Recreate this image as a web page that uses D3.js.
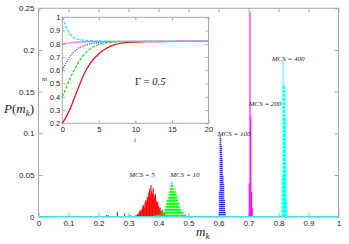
<!DOCTYPE html>
<html>
<head>
<meta charset="utf-8">
<script src="https://cdn.jsdelivr.net/npm/d3@7"></script>
<style>
  body { margin: 0; background: #fff; }
  .tick text { font-family: "Liberation Sans", Arial, sans-serif; fill: #222; }
  .lbl { font-family: "Liberation Serif", "DejaVu Serif", serif; fill: #222; }
</style>
</head>
<body>
<div class="chart"></div>
<script>
// Main histogram ticks
const xTicks = [0, 0.1, 0.2, 0.3, 0.4, 0.5, 0.6, 0.7, 0.8, 0.9, 1];
const yTicks = [0, 0.05, 0.1, 0.15, 0.2, 0.25];

// Histogram bins: bin width and first bin per series, P(m_k) values per bin
const binWidth = 0.0025;
const mcs5Start = 0.32;
const mcs5 = [0.001, 0, 0.002, 0.001, 0.003, 0.002, 0.005, 0.007, 0.006, 0.009, 0.008, 0.012, 0.014, 0.011, 0.017,
  0.020, 0.018, 0.024, 0.022, 0.029, 0.033, 0.027, 0.038, 0.031, 0.028, 0.034, 0.026, 0.023, 0.027, 0.019, 0.016,
  0.018, 0.013, 0.010, 0.011, 0.007, 0.006, 0.008, 0.004, 0.003, 0.005, 0.002, 0.002, 0.001, 0.001];
// isolated early spikes of MCS = 5
const mcs5SpikeM = [0.227, 0.232, 0.263, 0.287, 0.305];
const mcs5SpikeP = [0.002, 0.002, 0.006, 0.004, 0.002];

const mcs10Start = 0.39;
const mcs10 = [0.002, 0.001, 0.003, 0.002, 0.004, 0.003, 0.002, 0.005, 0.003, 0.006, 0.004, 0.008, 0.006, 0.012,
  0.010, 0.016, 0.020, 0.026, 0.022, 0.030, 0.035, 0.040, 0.043, 0.038, 0.033, 0.028, 0.034, 0.030, 0.026, 0.022,
  0.018, 0.016, 0.012, 0.010, 0.008, 0.006, 0.005, 0.004, 0.003, 0.002, 0.002, 0.001, 0.001];

const mcs100Start = 0.6025;
const mcs100 = [0.030, 0.098, 0.095, 0.085, 0.070, 0.050, 0.040, 0.020, 0.006];

const mcs200Start = 0.7025;
const mcs200 = [0.040, 0.246, 0.120, 0.030, 0.010];

const mcs400Start = 0.8125;
const mcs400 = [0.050, 0.186, 0.160, 0.158, 0.120, 0.060, 0.020];

// Inset: m(t) for five initial magnetisations
const tVals = [0, 0.5, 1, 1.5, 2, 2.5, 3, 4, 5, 6, 7, 8, 10, 12, 14, 16, 18, 20];
const mRed = [0.20, 0.245, 0.30, 0.37, 0.44, 0.51, 0.575, 0.665, 0.725, 0.765, 0.79, 0.804, 0.813, 0.816, 0.817, 0.818, 0.818, 0.818];
const mGreen = [0.40, 0.465, 0.53, 0.59, 0.64, 0.685, 0.72, 0.77, 0.795, 0.807, 0.813, 0.816, 0.817, 0.818, 0.818, 0.818, 0.818, 0.818];
const mBlue = [0.60, 0.655, 0.70, 0.735, 0.758, 0.775, 0.787, 0.802, 0.81, 0.814, 0.816, 0.817, 0.818, 0.818, 0.818, 0.818, 0.818, 0.818];
const mMagenta = [0.80, 0.804, 0.807, 0.81, 0.812, 0.814, 0.815, 0.817, 0.818, 0.818, 0.818, 0.818, 0.818, 0.818, 0.818, 0.818, 0.818, 0.818];
const mCyan = [1.0, 0.93, 0.875, 0.85, 0.838, 0.831, 0.827, 0.823, 0.821, 0.82, 0.819, 0.818, 0.818, 0.818, 0.818, 0.818, 0.818, 0.818];
const insetXTicks = [0, 5, 10, 15, 20];
const insetYTicks = [0.2, 0.3, 0.4, 0.5, 0.6, 0.7, 0.8, 0.9, 1];

const frameColor = "#a8a8a8";

const svg = d3.select(".chart").append("svg")
    .attr("width", 349)
    .attr("height", 244);

// Scales
const scaleX = d3.scaleLinear().domain([0, 1]).range([38.5, 338.5]);
const scaleY = d3.scaleLinear().domain([0, 0.25]).range([216.7, 8.3]);

// Frame
svg.append("rect")
    .attr("x", scaleX(0)).attr("y", scaleY(0.25))
    .attr("width", scaleX(1) - scaleX(0)).attr("height", scaleY(0) - scaleY(0.25))
    .attr("fill", "none").attr("stroke", frameColor).attr("stroke-width", 1);

const fmt = d => d3.format("~g")(d);

const styleAxis = (g) => {
    g.select(".domain").remove();
    g.selectAll(".tick line").attr("stroke", frameColor);
};

svg.append("g").attr("transform", `translate(0,${scaleY(0)})`)
    .call(d3.axisBottom(scaleX).tickValues(xTicks).tickSize(-4).tickPadding(4).tickFormat(fmt))
    .call(styleAxis).call(g => g.selectAll("text").attr("font-size", 8));
svg.append("g").attr("transform", `translate(0,${scaleY(0.25)})`)
    .call(d3.axisTop(scaleX).tickValues(xTicks).tickSize(-4).tickFormat(""))
    .call(styleAxis);
svg.append("g").attr("transform", `translate(${scaleX(0)},0)`)
    .call(d3.axisLeft(scaleY).tickValues(yTicks).tickSize(-4).tickPadding(4).tickFormat(fmt))
    .call(styleAxis).call(g => g.selectAll("text").attr("font-size", 8));
svg.append("g").attr("transform", `translate(${scaleX(1)},0)`)
    .call(d3.axisRight(scaleY).tickValues(yTicks).tickSize(-4).tickFormat(""))
    .call(styleAxis);

// Impulses helper
const drawImpulses = (start, values, color, dash) => {
    svg.append("g").selectAll("line")
        .data(values)
        .enter().append("line")
        .attr("x1", (d, i) => scaleX(start + i * binWidth))
        .attr("x2", (d, i) => scaleX(start + i * binWidth))
        .attr("y1", scaleY(0))
        .attr("y2", d => scaleY(d))
        .attr("stroke", color)
        .attr("stroke-width", 1.1)
        .attr("stroke-dasharray", dash);
};

svg.append("g").selectAll("line")
    .data(mcs5SpikeM)
    .enter().append("line")
    .attr("x1", d => scaleX(d)).attr("x2", d => scaleX(d))
    .attr("y1", scaleY(0)).attr("y2", (d, i) => scaleY(mcs5SpikeP[i]))
    .attr("stroke", "#ff0000").attr("stroke-width", 1);

drawImpulses(mcs5Start, mcs5, "#ff0000", null);
drawImpulses(mcs10Start, mcs10, "#00ff00", "2,1");
drawImpulses(mcs100Start, mcs100, "#0000ee", "1,1");
drawImpulses(mcs200Start, mcs200, "#ff00ff", null);
drawImpulses(mcs400Start, mcs400, "#00ffff", "3,1");

// zero baseline of the MCS = 400 histogram
svg.append("line")
    .attr("x1", scaleX(0)).attr("x2", scaleX(1))
    .attr("y1", scaleY(0)).attr("y2", scaleY(0))
    .attr("stroke", "#40e0f0").attr("stroke-width", 1.6);

// MCS labels
const mcsLabels = [
    { t: "MCS = 5", m: 0.345, p: 0.0475 },
    { t: "MCS = 10", m: 0.488, p: 0.0475 },
    { t: "MCS = 100", m: 0.652, p: 0.097 },
    { t: "MCS = 200", m: 0.755, p: 0.133 },
    { t: "MCS = 400", m: 0.832, p: 0.187 }
];
svg.append("g").selectAll("text")
    .data(mcsLabels)
    .enter().append("text")
    .attr("class", "lbl")
    .attr("x", d => scaleX(d.m))
    .attr("y", d => scaleY(d.p))
    .attr("text-anchor", "middle")
    .attr("font-size", 7)
    .attr("font-style", "italic")
    .text(d => d.t);

// Axis titles
const yTitle = svg.append("text").attr("class", "lbl")
    .attr("x", 4).attr("y", 113).attr("font-size", 13);
yTitle.append("tspan").attr("font-style", "italic").text("P");
yTitle.append("tspan").text("(");
yTitle.append("tspan").attr("font-style", "italic").text("m");
yTitle.append("tspan").attr("font-style", "italic").attr("font-size", 9).attr("dy", 3).text("k");
yTitle.append("tspan").attr("dy", -3).text(")");

const xTitle = svg.append("text").attr("class", "lbl")
    .attr("x", 196).attr("y", 236).attr("font-size", 13);
xTitle.append("tspan").attr("font-style", "italic").text("m");
xTitle.append("tspan").attr("font-style", "italic").attr("font-size", 9).attr("dy", 3).text("k");

// Inset
const insetX = d3.scaleLinear().domain([0, 20]).range([62.3, 208.5]);
const insetY = d3.scaleLinear().domain([0.2, 1]).range([123.3, 17.3]);

svg.append("rect")
    .attr("x", insetX(0)).attr("y", insetY(1))
    .attr("width", insetX(20) - insetX(0)).attr("height", insetY(0.2) - insetY(1))
    .attr("fill", "#fff").attr("stroke", frameColor).attr("stroke-width", 1);

svg.append("g").attr("transform", `translate(0,${insetY(0.2)})`)
    .call(d3.axisBottom(insetX).tickValues(insetXTicks).tickSize(-3).tickPadding(3))
    .call(styleAxis).call(g => g.selectAll("text").attr("font-size", 7.5));
svg.append("g").attr("transform", `translate(0,${insetY(1)})`)
    .call(d3.axisTop(insetX).tickValues(insetXTicks).tickSize(-3).tickFormat(""))
    .call(styleAxis);
svg.append("g").attr("transform", `translate(${insetX(0)},0)`)
    .call(d3.axisLeft(insetY).tickValues(insetYTicks).tickSize(-3).tickPadding(2).tickFormat(fmt))
    .call(styleAxis).call(g => g.selectAll("text").attr("font-size", 7.5));
svg.append("g").attr("transform", `translate(${insetX(20)},0)`)
    .call(d3.axisRight(insetY).tickValues(insetYTicks).tickSize(-3).tickFormat(""))
    .call(styleAxis);

const lineFunc = (vals) => d3.line()
    .x((d, i) => insetX(tVals[i]))
    .y(d => insetY(d))
    .curve(d3.curveMonotoneX)(vals);

const insetSeries = [
    { vals: mRed, color: "#ff0000", dash: null },
    { vals: mGreen, color: "#00ee00", dash: "3,1.5" },
    { vals: mBlue, color: "#2222ff", dash: "1,1.3" },
    { vals: mMagenta, color: "#ff66ff", dash: null },
    { vals: mCyan, color: "#00eeee", dash: "3,1.5" }
];
insetSeries.forEach(s => {
    svg.append("path")
        .attr("d", lineFunc(s.vals))
        .attr("fill", "none")
        .attr("stroke", s.color)
        .attr("stroke-width", 1.2)
        .attr("stroke-dasharray", s.dash);
});

svg.append("text").attr("class", "lbl")
    .attr("x", 42).attr("y", 81).attr("font-size", 7).attr("font-style", "italic").text("m");
svg.append("text").attr("class", "lbl")
    .attr("x", 134).attr("y", 142).attr("font-size", 7).attr("font-style", "italic").text("t");

const gamma = svg.append("text").attr("class", "lbl")
    .attr("x", 135).attr("y", 85).attr("font-size", 10.5);
gamma.append("tspan").text("Γ = ");
gamma.append("tspan").attr("font-style", "italic").text("0.5");
</script>
</body>
</html>
